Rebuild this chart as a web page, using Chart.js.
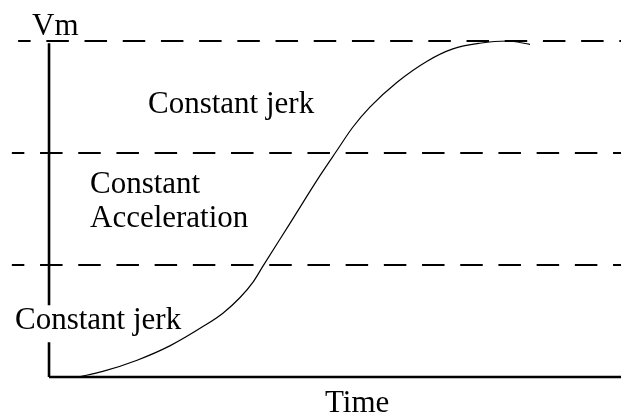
<!DOCTYPE html>
<html>
<head>
<meta charset="utf-8">
<script src="https://cdn.jsdelivr.net/npm/chart.js@4.4.0/dist/chart.umd.min.js"></script>
<style>
  html, body { margin: 0; padding: 0; background: #ffffff; }
  #wrap { width: 621px; height: 414px; position: relative; }
</style>
</head>
<body>
<div id="wrap"><canvas id="c"></canvas></div>
<script>
// S-curve velocity profile (time units, velocity in thirds of Vm)
var curveTime = [0.51, 0.94, 1.54, 2.12, 2.69, 3.04, 3.34, 3.57, 3.74, 4.21, 4.74, 5.03, 5.31, 5.61, 6.08, 6.61, 7.06, 7.53, 8.01, 8.41];
var curveVel  = [0.00, 0.05, 0.15, 0.28, 0.45, 0.57, 0.71, 0.85, 0.99, 1.37, 1.80, 2.02, 2.23, 2.41, 2.63, 2.82, 2.93, 2.98, 3.00, 2.97];

// dashed phase boundaries
var levels = [1, 2, 3];
var levelStart = [-0.65, -0.65, -0.54];

// axis extents
var timeMin = -0.857, timeMax = 10;
var velMax = 2.98;
// gap in the velocity axis behind the lower label
var axisGap = [0.31, 0.64];

// labels: text, left, baseline (px)
var labels = [
    ['Vm', 32, 35],
    ['Constant jerk', 148, 113],
    ['Constant', 90, 193],
    ['Acceleration', 90, 227],
    ['Constant jerk', 15, 329],
    ['Time', 325, 412]
];

var curve = curveTime.map(function (t, i) { return { x: t, y: curveVel[i] }; });

var datasets = [];
// vertical axis
datasets.push({
    data: [{ x: 0, y: 0 }, { x: 0, y: axisGap[0] }, { x: 0, y: null }, { x: 0, y: axisGap[1] }, { x: 0, y: velMax }],
    borderColor: '#000', borderWidth: 2.6, spanGaps: false
});
// horizontal axis
datasets.push({
    data: [{ x: 0, y: 0 }, { x: timeMax, y: 0 }],
    borderColor: '#000', borderWidth: 2.6
});
levels.forEach(function (lv, i) {
    datasets.push({
        data: [{ x: levelStart[i], y: lv }, { x: timeMax, y: lv }],
        borderColor: '#000', borderWidth: 2, borderDash: [22.5, 15.7], borderDashOffset: 10
    });
});
datasets.push({
    data: curve,
    borderColor: '#000', borderWidth: 1.2, cubicInterpolationMode: 'monotone'
});
datasets.forEach(function (d) {
    d.pointRadius = 0;
    d.clip = false;
    d.fill = false;
    d.borderCapStyle = 'butt';
});

var textPlugin = {
    id: 'labelsText',
    afterDatasetsDraw: function (chart) {
        var ctx = chart.ctx;
        ctx.save();
        ctx.fillStyle = '#000';
        ctx.font = '31px "Liberation Serif", "Times New Roman", serif';
        ctx.textAlign = 'left';
        ctx.textBaseline = 'alphabetic';
        labels.forEach(function (l) { ctx.fillText(l[0], l[1], l[2]); });
        ctx.restore();
    }
};

new Chart(document.getElementById('c').getContext('2d'), {
    type: 'line',
    data: { datasets: datasets },
    plugins: [textPlugin],
    options: {
        responsive: true,
        maintainAspectRatio: false,
        animation: false,
        layout: { padding: { top: 41, bottom: 37, left: 0, right: 0 } },
        plugins: { legend: { display: false }, tooltip: { enabled: false } },
        scales: {
            x: { type: 'linear', min: timeMin, max: timeMax, display: false },
            y: { type: 'linear', min: 0, max: 3, display: false }
        }
    }
});
</script>
</body>
</html>
